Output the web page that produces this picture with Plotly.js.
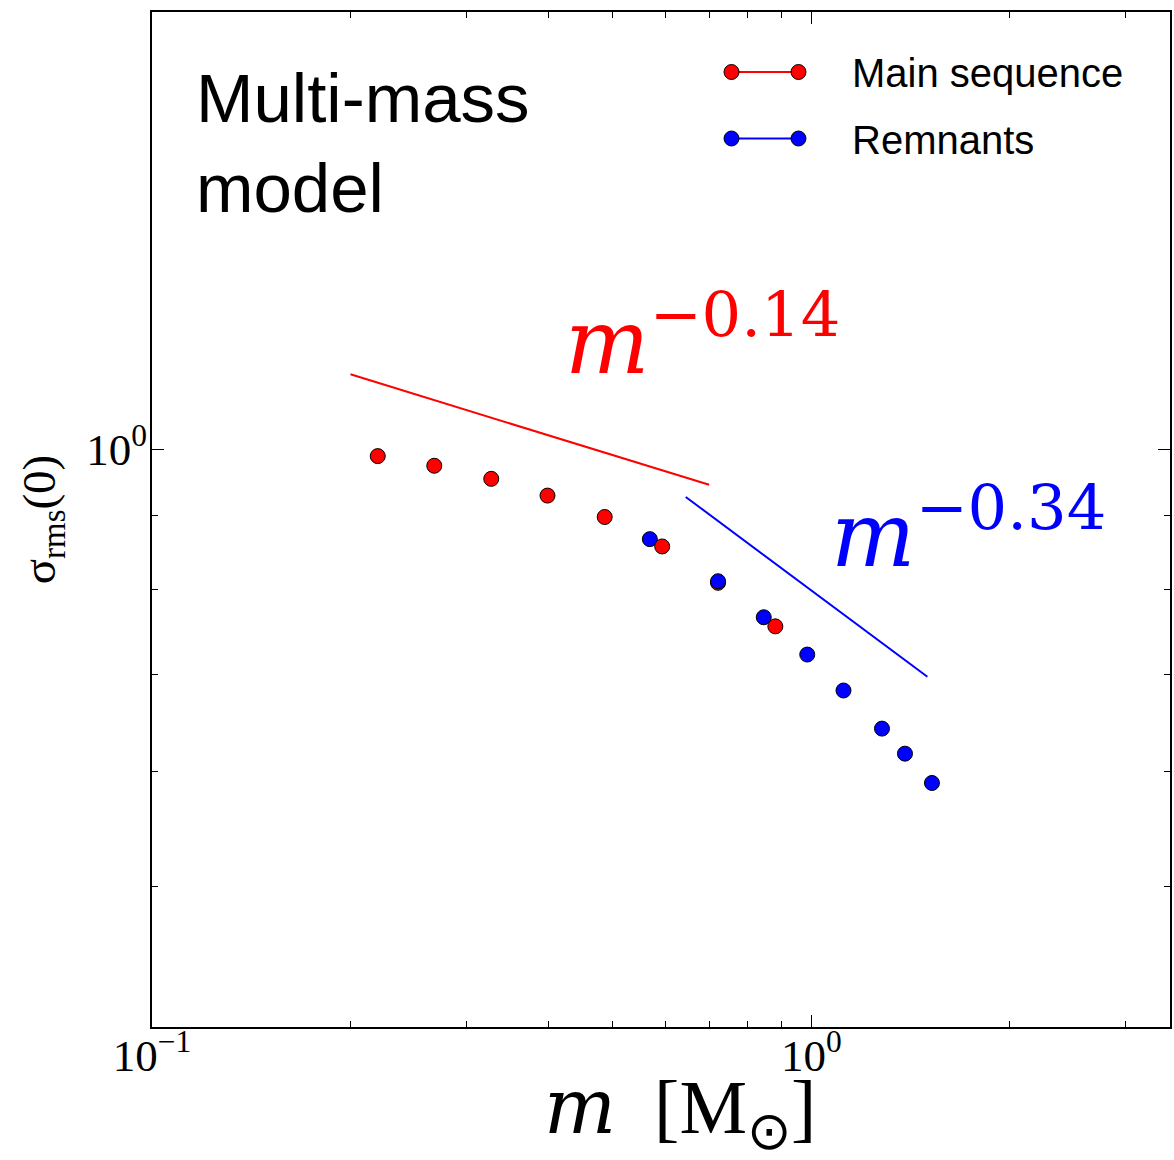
<!DOCTYPE html>
<html>
<head>
<meta charset="utf-8">
<script src="https://cdn.plot.ly/plotly-3.0.1.min.js"></script>
<style>
  html, body { margin: 0; padding: 0; background: #ffffff; }
  #chart { width: 1174px; height: 1160px; }
</style>
</head>
<body>
<div id="chart"></div>
<script>
// Central velocity dispersion per mass bin, multi-mass model
const msMass   = [0.220, 0.268, 0.327, 0.398, 0.486, 0.594, 0.722, 0.882];
const msSigma  = [0.989, 0.974, 0.954, 0.929, 0.898, 0.857, 0.809, 0.755];
const remMass  = [0.569, 0.722, 0.847, 0.986, 1.119, 1.280, 1.387, 1.524];
const remSigma = [0.867, 0.811, 0.766, 0.722, 0.682, 0.642, 0.617, 0.589];

// Power-law guide segments
const msGuideMass   = [0.2, 0.7];
const msGuideSigma  = [1.126, 0.945];
const remGuideMass  = [0.645, 1.5];
const remGuideSigma = [0.927, 0.697];

const seriesNames  = ['Main sequence', 'Remnants'];
const seriesColors = ['#ff0000', '#0000ff'];
const slopeLabels  = ['\u22120.14', '\u22120.34'];

const xTickVals = [0.1, 1];
const xTickText = ['10<sup>\u22121</sup>', '10<sup>0</sup>'];
const xMinorVals = [0.2, 0.3, 0.4, 0.5, 0.6, 0.7, 0.8, 0.9, 2, 3];
const yTickVals = [1];
const yTickText = ['10<sup>0</sup>'];
const yMinorVals = [0.5, 0.6, 0.7, 0.8, 0.9];

// Merge both populations, drawn in order of increasing mass
const pts = [];
msMass.forEach((m, i) => pts.push({m: m, s: msSigma[i], c: seriesColors[0]}));
remMass.forEach((m, i) => pts.push({m: m, s: remSigma[i], c: seriesColors[1]}));
pts.sort((a, b) => a.m - b.m);

const serif = 'Liberation Serif, Times New Roman, serif';
const sans = 'Liberation Sans, Arial, sans-serif';
const mathFont = 'DejaVu Serif, serif';

const traces = [
  {x: msGuideMass, y: msGuideSigma, mode: 'lines', line: {color: seriesColors[0], width: 2}, showlegend: false, hoverinfo: 'skip'},
  {x: remGuideMass, y: remGuideSigma, mode: 'lines', line: {color: seriesColors[1], width: 2}, showlegend: false, hoverinfo: 'skip'},
  {
    x: pts.map(p => p.m), y: pts.map(p => p.s), mode: 'markers', showlegend: false,
    marker: {size: 15, color: pts.map(p => p.c), line: {color: '#000000', width: 1}}
  }
];

// Legend drawn as line + two end markers, with labels
const L = 152, T = 12, W = 1018, H = 1015;
const px = v => (v - L) / W;
const py = v => (T + H - v) / H;
const legendRows = [72, 138.5];
const shapes = [];
const annotations = [];
legendRows.forEach((row, k) => {
  shapes.push({type: 'line', xref: 'paper', yref: 'paper', x0: px(731.5), x1: px(798.5), y0: py(row), y1: py(row),
               line: {color: seriesColors[k], width: 2}});
  [731.5, 798.5].forEach(cx => {
    shapes.push({type: 'circle', xref: 'paper', yref: 'paper', xsizemode: 'pixel', ysizemode: 'pixel',
                 xanchor: px(cx), yanchor: py(row), x0: -7.5, x1: 7.5, y0: -7.5, y1: 7.5,
                 fillcolor: seriesColors[k], line: {color: '#000000', width: 1}});
  });
  annotations.push({xref: 'paper', yref: 'paper', x: px(850), y: py(row + 1), xanchor: 'left', yanchor: 'middle',
                    showarrow: false, text: seriesNames[k], font: {family: sans, size: 40, color: '#000000'}});
});

annotations.push({xref: 'paper', yref: 'paper', x: px(194), y: py(58), xanchor: 'left', yanchor: 'top',
                  showarrow: false, align: 'left', text: 'Multi-mass<br>model',
                  font: {family: sans, size: 69, color: '#000000'}});

annotations.push({xref: 'paper', yref: 'paper', x: px(563), y: py(396), xanchor: 'left', yanchor: 'bottom',
                  showarrow: false, text: '<i>m</i><sup>' + slopeLabels[0] + '</sup>',
                  font: {family: mathFont, size: 89, color: seriesColors[0]}});
annotations.push({xref: 'paper', yref: 'paper', x: px(829), y: py(589), xanchor: 'left', yanchor: 'bottom',
                  showarrow: false, text: '<i>m</i><sup>' + slopeLabels[1] + '</sup>',
                  font: {family: mathFont, size: 89, color: seriesColors[1]}});

// Horizontal axis title
annotations.push({xref: 'paper', yref: 'paper', x: px(680), y: py(1163), xanchor: 'center', yanchor: 'bottom',
                  showarrow: false,
                  text: '<span style="font-family:DejaVu Serif"><i>m</i></span>\u2002[M<sub>\u2299</sub>]',
                  font: {family: serif, size: 76, color: '#000000'}});

const axisCommon = {
  type: 'log', showline: true, linecolor: '#000000', linewidth: 2, mirror: 'allticks',
  ticks: 'inside', ticklen: 12, tickwidth: 1, tickcolor: '#000000',
  showgrid: false, zeroline: false, tickmode: 'array',
  tickfont: {family: serif, size: 45, color: '#000000'}
};

const layout = {
  width: 1174, height: 1160,
  margin: {l: L, r: 4, t: T, b: 1160 - T - H, pad: 0},
  paper_bgcolor: '#ffffff', plot_bgcolor: '#ffffff',
  showlegend: false,
  xaxis: Object.assign({}, axisCommon, {
    range: [-1, Math.log10(3.5)],
    tickvals: xTickVals, ticktext: xTickText,
    ticklabelstandoff: -12,
    minor: {tickmode: 'array', tickvals: xMinorVals, ticks: 'inside', ticklen: 6, tickwidth: 1, tickcolor: '#000000', showgrid: false}
  }),
  yaxis: Object.assign({}, axisCommon, {
    range: [Math.log10(0.4), Math.log10(2.0)],
    tickvals: yTickVals, ticktext: yTickText,
    ticklabelstandoff: -6,
    minor: {tickmode: 'array', tickvals: yMinorVals, ticks: 'inside', ticklen: 6, tickwidth: 1, tickcolor: '#000000', showgrid: false},
    title: {text: '\u03c3<sub>rms</sub>(0)', font: {family: serif, size: 47, color: '#000000'}, standoff: 16}
  }),
  shapes: shapes,
  annotations: annotations
};

Plotly.newPlot('chart', traces, layout, {displayModeBar: false, staticPlot: true});
</script>
</body>
</html>
